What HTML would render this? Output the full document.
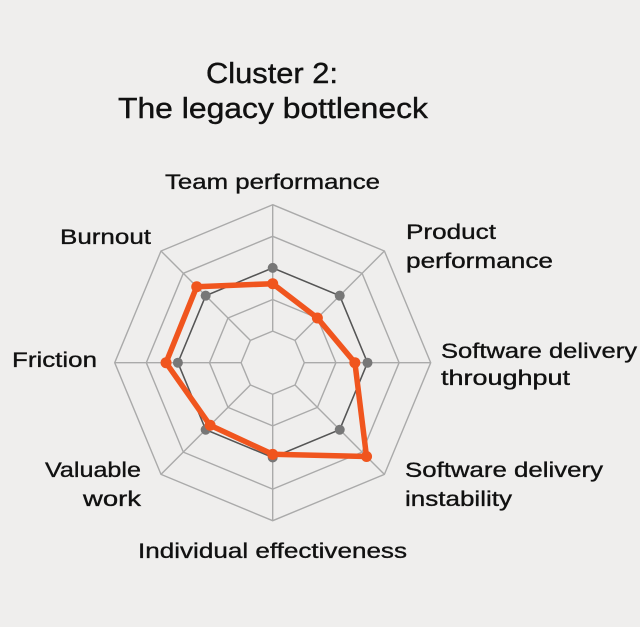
<!DOCTYPE html>
<html><head><style>html,body{margin:0;padding:0;background:#efeeed;}svg{display:block;}</style></head>
<body>
<svg width="640" height="627" viewBox="0 0 640 627" xmlns="http://www.w3.org/2000/svg" font-family="Liberation Sans, Arial, sans-serif" fill="#111">
<rect width="640" height="627" fill="#efeeed"/>
<g stroke="#111" stroke-width="0.4">
<text x="272" y="83" font-size="29" text-anchor="middle" textLength="132" lengthAdjust="spacingAndGlyphs">Cluster 2:</text>
<text x="273" y="118" font-size="29" text-anchor="middle" textLength="310" lengthAdjust="spacingAndGlyphs">The legacy bottleneck</text>
</g>
<g font-size="21" stroke="#111" stroke-width="0.35">
<text x="165" y="189" textLength="215" lengthAdjust="spacingAndGlyphs">Team performance</text>
<text x="60" y="244" textLength="91" lengthAdjust="spacingAndGlyphs">Burnout</text>
<text x="406" y="239" textLength="90" lengthAdjust="spacingAndGlyphs">Product</text>
<text x="406" y="268" textLength="147" lengthAdjust="spacingAndGlyphs">performance</text>
<text x="441" y="358" textLength="196" lengthAdjust="spacingAndGlyphs">Software delivery</text>
<text x="441" y="385" textLength="129" lengthAdjust="spacingAndGlyphs">throughput</text>
<text x="12" y="367" textLength="85" lengthAdjust="spacingAndGlyphs">Friction</text>
<text x="45" y="477" textLength="96" lengthAdjust="spacingAndGlyphs">Valuable</text>
<text x="83" y="506" textLength="58" lengthAdjust="spacingAndGlyphs">work</text>
<text x="405" y="477" textLength="198" lengthAdjust="spacingAndGlyphs">Software delivery</text>
<text x="405" y="506" textLength="107" lengthAdjust="spacingAndGlyphs">instability</text>
<text x="138" y="558" textLength="269" lengthAdjust="spacingAndGlyphs">Individual effectiveness</text>
</g>
<g id="chart"></g>
<script>
var cx=272.7,cy=362.7,R=158,g=document.getElementById('chart'),ns='http://www.w3.org/2000/svg';
function pt(i,r){var a=-Math.PI/2+i*Math.PI/4;return [cx+r*Math.cos(a),cy+r*Math.sin(a)];}
function poly(vals,attrs){var p=[];for(var i=0;i<8;i++){var q=pt(i,vals[i]*R);p.push(q[0].toFixed(1)+','+q[1].toFixed(1));}var e=document.createElementNS(ns,'polygon');e.setAttribute('points',p.join(' '));for(var k in attrs)e.setAttribute(k,attrs[k]);g.appendChild(e);}
for(var l=1;l<=5;l++){poly([l/5,l/5,l/5,l/5,l/5,l/5,l/5,l/5],{fill:'none',stroke:'#aaa','stroke-width':1.4});}
for(var i=0;i<8;i++){var q=pt(i,R),q0=pt(i,R/5),ln=document.createElementNS(ns,'line');ln.setAttribute('x1',q0[0]);ln.setAttribute('y1',q0[1]);ln.setAttribute('x2',q[0]);ln.setAttribute('y2',q[1]);ln.setAttribute('stroke','#aaa');ln.setAttribute('stroke-width',1.4);g.appendChild(ln);}
var gray=[0.6,0.6,0.6,0.6,0.6,0.6,0.6,0.6];
poly(gray,{fill:'none',stroke:'#555','stroke-width':1.5});
for(var i=0;i<8;i++){var q=pt(i,gray[i]*R),c=document.createElementNS(ns,'circle');c.setAttribute('cx',q[0]);c.setAttribute('cy',q[1]);c.setAttribute('r',5);c.setAttribute('fill','#777');g.appendChild(c);}
var org=[0.5,0.4,0.52,0.84,0.58,0.56,0.675,0.68];
poly(org,{fill:'none',stroke:'#f0551e','stroke-width':5.5,'stroke-linejoin':'round'});
for(var i=0;i<8;i++){var q=pt(i,org[i]*R),c=document.createElementNS(ns,'circle');c.setAttribute('cx',q[0]);c.setAttribute('cy',q[1]);c.setAttribute('r',5.5);c.setAttribute('fill','#f0551e');g.appendChild(c);}
</script>
</svg>
</body></html>
